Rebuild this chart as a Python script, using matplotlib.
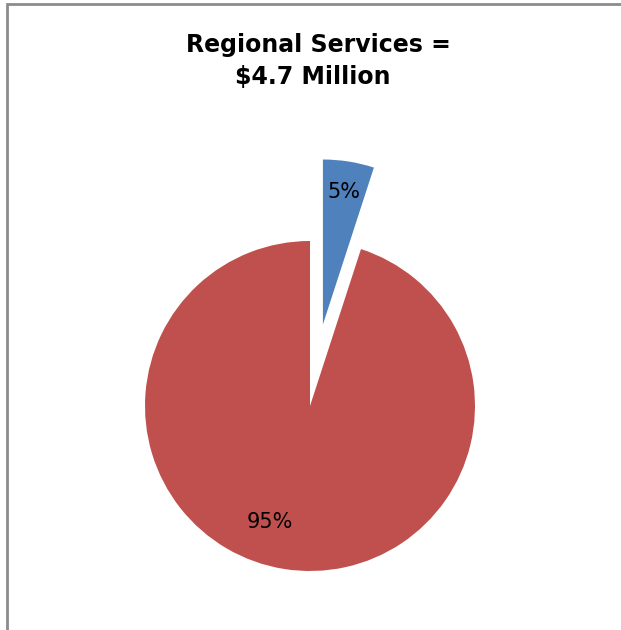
import matplotlib
matplotlib.use('Agg')
import matplotlib.pyplot as plt
from matplotlib.patches import Rectangle

labels = ['Regional Services', 'Other']
shares = [5, 95]
colors = ['#4F81BD', '#C0504D']
title_lines = ['Regional Services =', '$4.7 Million']

plt.rcParams['font.family'] = ['DejaVu Sans']

fig = plt.figure(figsize=(6.21, 6.30), dpi=100)
ax = fig.add_axes([0, 0, 1, 1])

wedges, texts, autotexts = ax.pie(shares, colors=colors, startangle=90, counterclock=False,
                                  explode=[0.5, 0], radius=1.0, autopct='%1.0f%%',
                                  pctdistance=0.8, textprops={'fontsize': 15, 'color': 'black'})
for w in wedges:
    w.set_linewidth(0)

# Excel puts the big label a bit left of the wedge's mid line
autotexts[0].set_position((34 / 165, 214 / 165))
autotexts[1].set_position((-40 / 165, -116 / 165))

# keep pie centre and radius at the same pixel spot as the reference
ax.set_xlim(-310 / 165, (621 - 310) / 165)
ax.set_ylim(-224 / 165, 406 / 165)
ax.set_aspect('equal')
ax.axis('off')

fig.text(0.512, 1 - 45 / 630, title_lines[0], ha='center', va='center', fontsize=17, fontweight='bold')
fig.text(0.504, 1 - 77 / 630, title_lines[1], ha='center', va='center', fontsize=17, fontweight='bold')

# chart area border (runs off the right and bottom edges)
fig.patches.append(Rectangle((6.5 / 621, -0.1), 1.2, 1 - 4.5 / 630 + 0.1, transform=fig.transFigure,
                             fill=False, edgecolor='#8c8c8c', linewidth=2, clip_on=False))

fig.savefig('out.png', dpi=100)
